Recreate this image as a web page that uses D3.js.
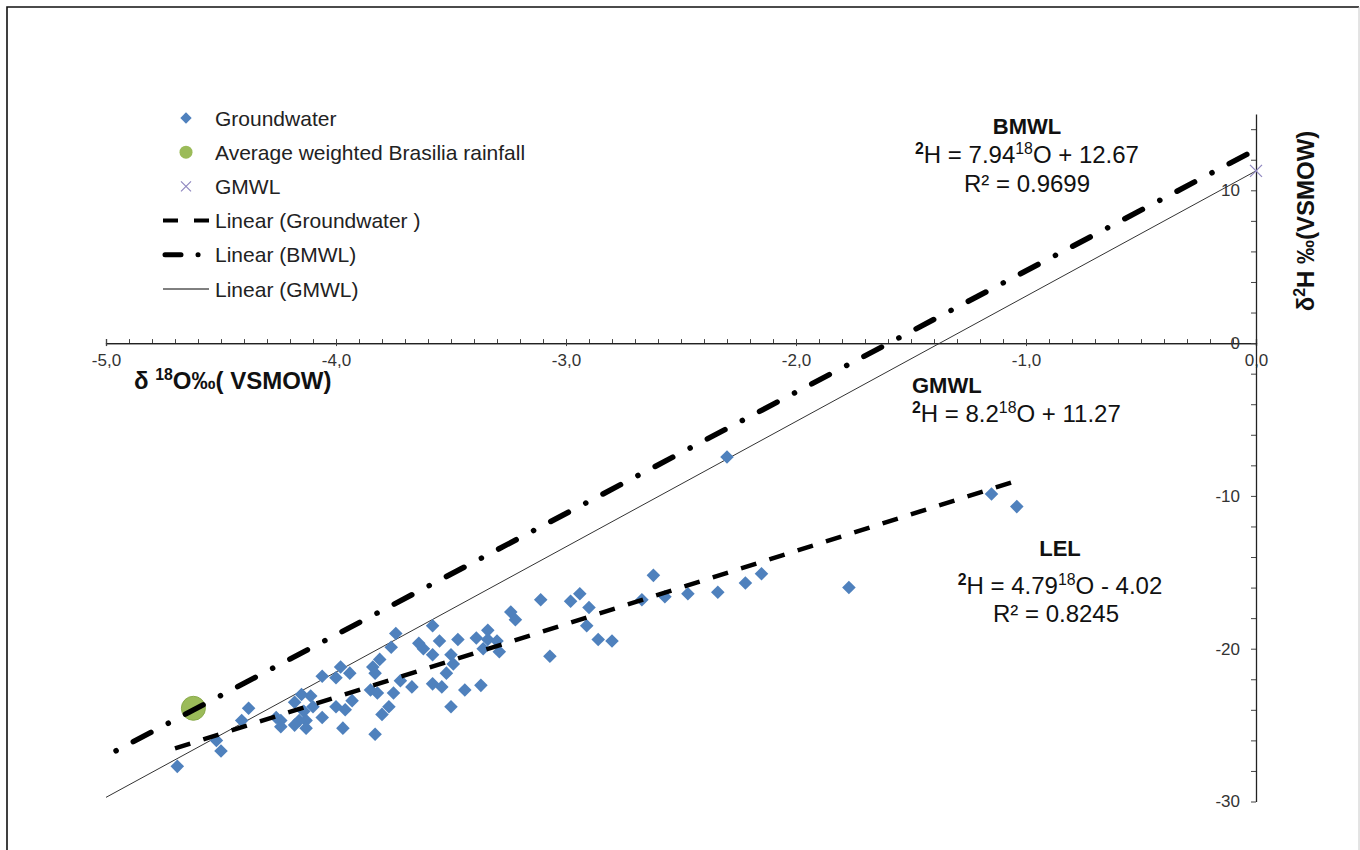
<!doctype html>
<html>
<head>
    <meta charset="utf-8">
    <title>Isotopes - Brasilia groundwater</title>
    <script src="https://d3js.org/d3.v7.min.js"></script>
    <style type="text/css">
        html, body { margin: 0; background: #fff; }
        svg text { font-family: Arial, "Liberation Sans", sans-serif; }
    </style>
</head>
<body>
<svg id="chart" width="1360" height="850"></svg>
<script type="text/javascript">
    // groundwater samples (d18O, d2H)
    var gwO = [-2.30, -1.15, -1.04, -1.77, -2.15, -2.22, -2.34, -2.47, -2.57, -2.62,
               -2.67, -3.11, -2.98, -2.94, -2.90, -2.91, -2.86, -2.80, -3.07, -3.24,
               -3.22, -3.58, -3.55, -3.47, -3.39, -3.34, -3.34, -3.30, -3.36, -3.29,
               -3.62, -3.58, -3.50, -3.49, -3.52, -3.58, -3.54, -3.44, -3.37, -3.50,
               -3.74, -3.76, -3.64, -3.81, -3.84, -3.83, -3.98, -3.94, -4.00, -4.06,
               -3.85, -3.82, -3.75, -3.72, -3.67, -3.77, -3.80, -3.83, -3.97, -3.93,
               -3.96, -4.00, -4.06, -4.11, -4.15, -4.18, -4.10, -4.14, -4.13, -4.16,
               -4.24, -4.24, -4.18, -4.13, -4.26, -4.38, -4.41, -4.52, -4.50, -4.69];
    var gwH = [-7.46, -9.88, -10.70, -16.00, -15.10, -15.70, -16.30, -16.40, -16.60, -15.20,
               -16.80, -16.80, -16.90, -16.40, -17.30, -18.50, -19.40, -19.50, -20.50, -17.60,
               -18.10, -18.50, -19.50, -19.40, -19.30, -18.80, -19.40, -19.50, -20.00, -20.20,
               -20.00, -20.40, -20.40, -21.00, -21.60, -22.30, -22.50, -22.70, -22.40, -23.80,
               -19.00, -19.90, -19.65, -20.70, -21.20, -21.60, -21.20, -21.60, -21.90, -21.80,
               -22.70, -22.90, -22.90, -22.10, -22.50, -23.80, -24.30, -25.60, -25.20, -23.40,
               -24.00, -23.80, -24.50, -23.10, -23.00, -23.50, -23.80, -24.10, -24.70, -24.70,
               -24.70, -25.10, -25.00, -25.20, -24.50, -23.90, -24.70, -26.00, -26.70, -27.70];

    var rainfall = [-4.62, -23.9];   // average weighted Brasilia rainfall
    var gmwlPoint = [0, 11.27];      // GMWL marker on the y axis

    // trend line end points (d18O, d2H)
    var lelLine = [[-4.70, -26.53], [-1.035, -8.98]];
    var bmwlLine = [[-0.04, 12.35], [-4.96, -26.71]];
    var gmwlLine = [[-5, -29.73], [0, 11.27]];

    var xTicks = [-5, -4, -3, -2, -1, 0];
    var yTicks = [10, 0, -10, -20, -30];

    var legendItems = ["Groundwater", "Average weighted Brasilia rainfall", "GMWL",
                       "Linear (Groundwater )", "Linear (BMWL)", "Linear (GMWL)"];

    var blue = "#4F81BD", green = "#9BBB59", lilac = "#9088c0";

    var svg = d3.select("#chart");

    // frame
    svg.append("path").attr("d", "M7,860 V7 H1359").attr("fill", "none")
        .attr("stroke", "#111").attr("stroke-width", 1.6);
    svg.append("line").attr("x1", 1359).attr("x2", 1359).attr("y1", 7).attr("y2", 850)
        .attr("stroke", "#c8c8c8");

    var x = d3.scaleLinear().domain([-5, 0]).range([106, 1256]);
    var y = d3.scaleLinear().domain([-30, 15]).range([801.5, 113.9]);

    // x axis (crosses at d2H = 0)
    var minorX = d3.range(-50, 1).map(function(d){ return d / 10; });
    var gx = svg.append("g").attr("transform", "translate(0," + y(0) + ")");
    gx.call(d3.axisTop(x).tickValues(minorX).tickSize(4).tickFormat(""));
    gx.append("g").call(d3.axisBottom(x).tickValues(xTicks).tickSize(3)
        .tickPadding(8).tickFormat(function(d){ return d3.format(".1f")(d).replace(".", ",").replace("−", "-"); }));
    gx.selectAll("path.domain").attr("stroke", "#222").attr("stroke-width", 1.3);
    gx.selectAll("line").attr("stroke", "#444");
    gx.selectAll("text").attr("font-size", 17).attr("fill", "#333");

    // y axis (at d18O = 0)
    var minorY = d3.range(-30, 15, 2);
    var gy = svg.append("g").attr("transform", "translate(" + x(0) + ",0)");
    gy.call(d3.axisLeft(y).tickValues(minorY).tickSize(5).tickFormat(""));
    gy.append("g").call(d3.axisLeft(y).tickValues(yTicks).tickSize(0).tickPadding(16)
        .tickFormat(function(d){ return String(d); }));
    gy.selectAll("path.domain").attr("stroke", "#222").attr("stroke-width", 1.3);
    gy.select("g path.domain").remove();
    gy.selectAll("line").attr("stroke", "#444");
    gy.selectAll("text").attr("font-size", 17).attr("fill", "#333");

    var line = d3.line().x(function(d){ return x(d[0]); }).y(function(d){ return y(d[1]); });

    // GMWL thin line
    svg.append("path").attr("d", line(gmwlLine)).attr("fill", "none")
        .attr("stroke", "#333").attr("stroke-width", 1);

    // groundwater diamonds
    var diamond = d3.symbol().type(d3.symbolSquare).size(92);
    svg.append("g").selectAll("path").data(d3.range(gwO.length)).join("path")
        .attr("d", diamond)
        .attr("transform", function(i){ return "translate(" + x(gwO[i]) + "," + y(gwH[i]) + ") rotate(45)"; })
        .attr("fill", blue);

    // rainfall point
    svg.append("circle").attr("cx", x(rainfall[0])).attr("cy", y(rainfall[1])).attr("r", 12)
        .attr("fill", green).attr("stroke", "#8aab4c").attr("stroke-width", 1);

    // LEL dashed
    svg.append("path").attr("d", line(lelLine)).attr("fill", "none")
        .attr("stroke", "#000").attr("stroke-width", 4.5)
        .attr("stroke-dasharray", "16 13.7");

    // BMWL dash-dot
    svg.append("path").attr("d", line(bmwlLine)).attr("fill", "none")
        .attr("stroke", "#000").attr("stroke-width", 5.5).attr("stroke-linecap", "round")
        .attr("stroke-dasharray", "19.9 19.4 0.1 19.6");

    // GMWL cross
    var cx = x(gmwlPoint[0]), cy = y(gmwlPoint[1]);
    svg.append("path").attr("d", "M" + (cx - 6) + "," + (cy - 6) + "L" + (cx + 6) + "," + (cy + 6) +
        "M" + (cx - 6) + "," + (cy + 6) + "L" + (cx + 6) + "," + (cy - 6))
        .attr("stroke", lilac).attr("stroke-width", 1.3);

    // rich text helper: parts = [text, sup?, bold?]
    function rich(sel, parts, size) {
        parts.forEach(function(p, i) {
            var t = sel.append("tspan").text(p[0]);
            var prevSup = i > 0 && parts[i - 1][1];
            if (p[1]) t.attr("font-size", size * 0.66).attr("dy", prevSup ? 0 : -size * 0.38);
            else if (prevSup) t.attr("dy", size * 0.38);
            if (p[2]) t.attr("font-weight", "bold");
        });
        return sel;
    }

    // axis titles
    rich(svg.append("text").attr("x", 134).attr("y", 389).attr("font-size", 24)
        .attr("font-weight", "bold").attr("fill", "#111"),
        [["δ "], ["18", true], ["O‰( VSMOW)"]], 24);
    rich(svg.append("text").attr("transform", "translate(1314,221) rotate(-90)")
        .attr("text-anchor", "middle").attr("font-size", 24).attr("font-weight", "bold").attr("fill", "#111"),
        [["δ"], ["2", true], ["H ‰(VSMOW)"]], 24);

    // equations
    function label(px, py, anchor, str, bold) {
        return svg.append("text").attr("x", px).attr("y", py).attr("text-anchor", anchor)
            .attr("font-size", bold ? 22 : 24).attr("font-weight", bold ? "bold" : "normal")
            .attr("fill", "#111").text(str);
    }
    label(1027, 134, "middle", "BMWL", true);
    rich(label(1027, 163, "middle", ""), [["2", true, true], ["H = 7.94"], ["18", true], ["O + 12.67"]], 24);
    label(1027, 192, "middle", "R² = 0.9699");

    label(912, 393, "start", "GMWL", true);
    rich(label(912, 422, "start", ""), [["2", true, true], ["H = 8.2"], ["18", true], ["O + 11.27"]], 24);

    label(1060, 556, "middle", "LEL", true);
    rich(label(1060, 594, "middle", ""), [["2", true, true], ["H = 4.79"], ["18", true], ["O - 4.02"]], 24);
    label(1056, 622, "middle", "R² = 0.8245");

    // legend
    var lg = svg.append("g");
    var rowY = function(i){ return 118 + i * 34.2; };
    lg.selectAll("text").data(legendItems).join("text")
        .attr("x", 215).attr("y", function(d, i){ return rowY(i) + 7.5; })
        .attr("font-size", 21).attr("fill", "#222").text(function(d){ return d; });
    lg.append("path").attr("d", d3.symbol().type(d3.symbolSquare).size(64))
        .attr("transform", "translate(186," + rowY(0) + ") rotate(45)").attr("fill", blue);
    lg.append("circle").attr("cx", 186).attr("cy", rowY(1)).attr("r", 6.5).attr("fill", green);
    lg.append("path").attr("d", "M181," + (rowY(2) - 5) + "l10,10M181," + (rowY(2) + 5) + "l10,-10")
        .attr("stroke", lilac).attr("stroke-width", 1.2);
    lg.append("line").attr("x1", 163).attr("x2", 209).attr("y1", rowY(3)).attr("y2", rowY(3))
        .attr("stroke", "#000").attr("stroke-width", 4).attr("stroke-dasharray", "15 16");
    lg.append("line").attr("x1", 165).attr("x2", 209).attr("y1", rowY(4)).attr("y2", rowY(4))
        .attr("stroke", "#000").attr("stroke-width", 5).attr("stroke-linecap", "round")
        .attr("stroke-dasharray", "16 17 0.1 20");
    lg.append("line").attr("x1", 163).attr("x2", 209).attr("y1", rowY(5)).attr("y2", rowY(5))
        .attr("stroke", "#000").attr("stroke-width", 1);
</script>
</body>
</html>
